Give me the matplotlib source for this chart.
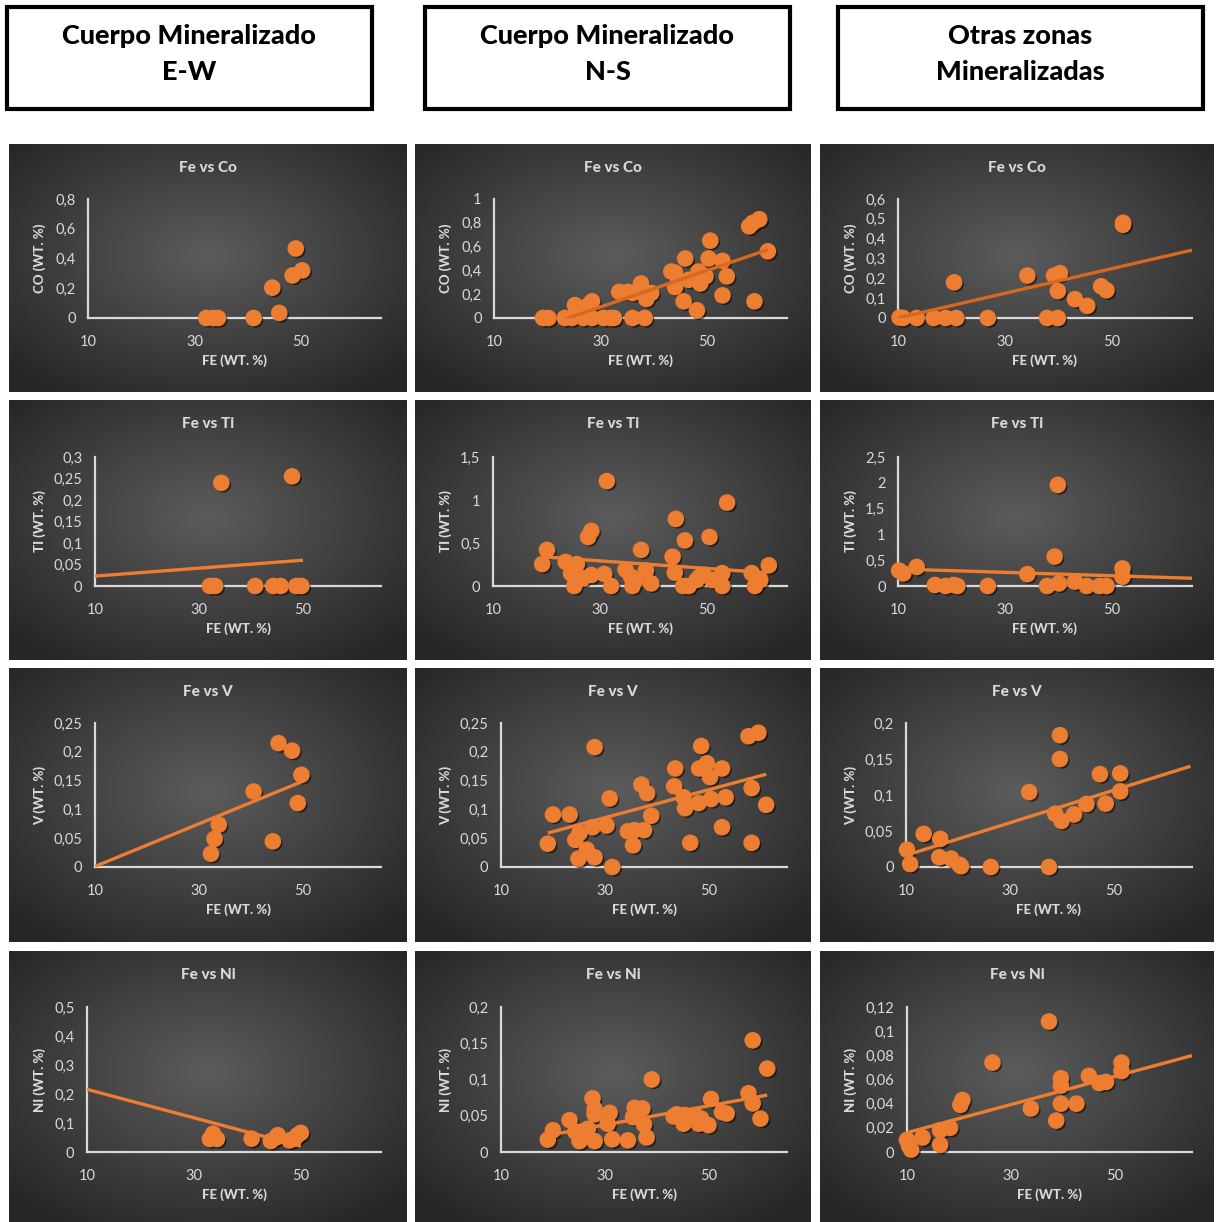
import numpy as np
import matplotlib.pyplot as plt
import matplotlib.patheffects as pe
from matplotlib.patches import Rectangle
from matplotlib.ticker import FuncFormatter, MultipleLocator

plt.rcParams['font.family'] = ['Lato', 'DejaVu Sans']

# ---------------- data (Fe wt.% vs element wt.%) ----------------
# Cuerpo Mineralizado E-W
ew_co_fe = [32.2, 33.5, 34.4, 41.1, 44.6, 45.9, 48.4, 49.0, 50.2]
ew_co = [0, 0, 0, 0, 0.204, 0.034, 0.286, 0.467, 0.32]
ew_ti_fe = [32.1, 33.1, 34.3, 40.8, 44.3, 45.7, 47.9, 48.7, 49.7]
ew_ti = [0, 0, 0.24, 0, 0, 0, 0.255, 0, 0]
ew_v_fe = [32.3, 33.0, 33.8, 40.5, 44.2, 45.3, 47.9, 49.0, 49.7]
ew_v = [0.023, 0.049, 0.0735, 0.131, 0.0445, 0.215, 0.202, 0.111, 0.16]
ew_ni_fe = [33.0, 33.6, 34.3, 40.8, 44.4, 45.4, 45.7, 47.9, 48.8, 49.4, 50.0]
ew_ni = [0.045, 0.063, 0.045, 0.046, 0.038, 0.05, 0.058, 0.04, 0.046, 0.058, 0.066]

# Cuerpo Mineralizado N-S
ns_co_fe = [19.2, 20.2, 23.3, 24.6, 25.2, 25.9, 26.8, 28.4, 27.8, 28.4, 30.6, 31.9,
            32.5, 33.5, 35.1, 36.0, 36.0, 38.3, 37.6, 38.6, 39.5, 43.3, 44.0, 44.0,
            45.6, 45.9, 46.5, 48.1, 48.4, 48.7, 49.7, 50.6, 50.3, 52.9, 52.9, 53.7,
            57.9, 58.6, 59.8, 58.9, 61.4]
ns_co = [0, 0, 0, 0, 0.108, 0.05, 0, 0, 0.11, 0.14, 0, 0,
         0, 0.22, 0.22, 0.21, 0, 0, 0.29, 0.16, 0.21, 0.39, 0.38, 0.26,
         0.14, 0.50, 0.32, 0.065, 0.39, 0.29, 0.35, 0.65, 0.50, 0.48, 0.19, 0.35,
         0.77, 0.80, 0.83, 0.14, 0.56]
ns_ti_fe = [19.2, 20.1, 23.6, 24.6, 25.2, 25.7, 26.8, 28.4, 27.8, 28.4, 30.8, 31.3,
            32.1, 34.8, 35.8, 36.1, 36.7, 37.7, 38.6, 39.6, 43.6, 44.0, 44.2, 45.6,
            46.6, 45.9, 48.1, 48.7, 49.4, 50.5, 51.0, 52.9, 52.9, 53.8, 58.4, 59.0,
            60.0, 61.6]
ns_ti = [0.255, 0.42, 0.28, 0.147, 0, 0.255, 0.09, 0.128, 0.57, 0.64, 0.14, 1.22,
         0, 0.19, 0.11, 0, 0.07, 0.42, 0.18, 0.03, 0.34, 0.155, 0.78, 0,
         0, 0.53, 0.07, 0.11, 0.13, 0.57, 0.07, 0.15, 0, 0.97, 0.15, 0,
         0.07, 0.24]
ns_v_fe = [19.0, 20.0, 23.2, 24.3, 25.1, 24.9, 26.5, 27.6, 28.0, 28.0, 30.3, 30.9,
           31.4, 34.4, 35.7, 35.4, 37.5, 37.0, 38.1, 38.9, 43.3, 43.5, 45.1, 45.4,
           46.4, 48.0, 48.1, 49.6, 48.5, 50.2, 50.4, 52.5, 52.5, 53.2, 57.6, 59.5,
           58.2, 58.2, 61.0]
ns_v = [0.0405, 0.091, 0.091, 0.047, 0.059, 0.0145, 0.03, 0.069, 0.208, 0.0168, 0.072, 0.119,
        0, 0.062, 0.064, 0.0376, 0.064, 0.143, 0.128, 0.089, 0.14, 0.171, 0.121, 0.102,
        0.042, 0.111, 0.171, 0.18, 0.21, 0.156, 0.118, 0.171, 0.069, 0.121, 0.227, 0.233,
        0.137, 0.042, 0.108]
ns_ni_fe = [19.0, 20.0, 23.2, 24.3, 25.1, 25.4, 26.7, 27.6, 28.0, 28.0, 28.0, 30.9,
            30.5, 31.4, 34.4, 35.4, 35.7, 37.2, 37.5, 38.0, 39.0, 43.2, 43.8, 45.1,
            45.4, 47.3, 48.0, 48.5, 49.9, 50.4, 52.5, 53.4, 57.6, 58.4, 58.4, 59.9,
            61.2]
ns_ni = [0.017, 0.03, 0.044, 0.028, 0.015, 0.028, 0.032, 0.074, 0.059, 0.052, 0.015, 0.054,
         0.039, 0.0175, 0.016, 0.048, 0.061, 0.06, 0.038, 0.02, 0.10, 0.049, 0.052, 0.039,
         0.051, 0.051, 0.039, 0.046, 0.037, 0.073, 0.055, 0.053, 0.081, 0.067, 0.154, 0.046,
         0.115]

# Otras zonas Mineralizadas
ot_co_fe = [10.3, 10.95, 13.5, 16.7, 18.9, 20.9, 20.5, 26.8, 34.2, 37.9, 39.9, 39.2,
            40.3, 39.9, 43.1, 45.4, 48.0, 49.0, 52.1, 52.1]
ot_co = [0.002, 0, 0, 0, 0, 0, 0.18, 0, 0.214, 0, 0, 0.214,
         0.226, 0.136, 0.095, 0.061, 0.16, 0.14, 0.48, 0.47]
ot_ti_fe = [10.2, 11.0, 13.5, 16.9, 18.9, 20.4, 21.1, 26.8, 34.2, 37.9, 39.3, 39.9,
            40.1, 43.1, 45.3, 47.7, 49.0, 52.0, 52.0]
ot_ti = [0.3, 0.245, 0.37, 0.02, 0, 0.02, 0, 0, 0.23, 0, 0.57, 1.96,
         0.05, 0.085, 0, 0, 0, 0.34, 0.18]
ot_v_fe = [10.2, 10.8, 13.4, 16.6, 16.4, 18.7, 20.3, 20.6, 26.3, 33.7, 37.5, 38.7,
           39.6, 39.6, 39.9, 42.3, 44.7, 47.3, 48.4, 51.2, 51.2]
ot_v = [0.024, 0.004, 0.046, 0.039, 0.0134, 0.0116, 0.003, 0.001, 0, 0.104, 0, 0.074,
        0.183, 0.15, 0.064, 0.073, 0.0875, 0.129, 0.088, 0.13, 0.105]
ot_ni_fe = [10.0, 10.4, 10.8, 13.0, 16.4, 16.4, 18.3, 20.3, 20.7, 26.5, 33.9, 37.4,
            38.8, 39.7, 39.7, 39.7, 42.7, 45.1, 47.1, 48.4, 51.4, 51.4]
ot_ni = [0.01, 0.005, 0.002, 0.012, 0.006, 0.018, 0.02, 0.039, 0.043, 0.074, 0.036, 0.108,
         0.026, 0.055, 0.061, 0.04, 0.04, 0.063, 0.057, 0.058, 0.074, 0.067]

# linear trendlines: (slope, intercept, x from, x to)
ew_trend = [None, (0.000925, 0.01375, 10, 50), (0.0037, -0.036, 10, 50), (-0.0049, 0.265, 10, 50)]
ns_trend = [(0.01535, -0.368, 19.2, 61.4), (-0.0044, 0.4245, 19.2, 61.3),
            (0.00243, 0.0128, 19.0, 61.0), (0.001315, -0.002, 19.0, 61.2)]
ot_trend = [(0.00622, -0.062, 10, 65), (-0.00327, 0.3627, 10, 65),
            (0.00226, -0.0063, 10.3, 64.7), (0.00116, 0.0044, 10, 65)]

headers = ['Cuerpo Mineralizado\nE-W', 'Cuerpo Mineralizado\nN-S', 'Otras zonas\nMineralizadas']
elements = ['Co', 'Ti', 'V', 'Ni']
ymax = [[0.8, 1, 0.6], [0.3, 1.5, 2.5], [0.25, 0.25, 0.2], [0.5, 0.2, 0.12]]
ystep = [[0.2, 0.2, 0.1], [0.05, 0.5, 0.5], [0.05, 0.05, 0.05], [0.1, 0.05, 0.02]]

series = [
    [(ew_co_fe, ew_co), (ns_co_fe, ns_co), (ot_co_fe, ot_co)],
    [(ew_ti_fe, ew_ti), (ns_ti_fe, ns_ti), (ot_ti_fe, ot_ti)],
    [(ew_v_fe, ew_v), (ns_v_fe, ns_v), (ot_v_fe, ot_v)],
    [(ew_ni_fe, ew_ni), (ns_ni_fe, ns_ni), (ot_ni_fe, ot_ni)],
]
trends = [[ew_trend[i], ns_trend[i], ot_trend[i]] for i in range(4)]

# ---------------- layout (pixels) ----------------
W, H = 1216, 1222
fig = plt.figure(figsize=(W / 100, H / 100), dpi=100)
fig.patch.set_facecolor('white')


def px_axes(l, t, r, b, **kw):
    return fig.add_axes([l / W, 1 - b / H, (r - l) / W, (b - t) / H], **kw)


# header boxes
box_x = [(7, 372), (425, 790), (838, 1203)]
for (l, r), txt in zip(box_x, headers):
    fig.patches.append(Rectangle((l / W, 1 - 109 / H), (r - l) / W, 102 / H,
                                 transform=fig.transFigure, fill=False,
                                 edgecolor='black', linewidth=3))
    fig.text((l + r) / 2 / W, 1 - 54 / H, txt, ha='center', va='center',
             fontsize=19.5, fontweight='black', linespacing=1.55)

panel_cols = [(9, 407), (415, 811), (820, 1214)]
panel_rows = [(144, 392), (400, 660), (668, 942), (951, 1222)]
plot_left = [[88, 494, 898], [95, 493, 898], [95, 501, 906], [87, 501, 907]]
plot_tb = [(199, 318), (457, 586), (723, 867), (1007, 1152)]

# radial gradient for panel background
gx, gy = np.meshgrid(np.linspace(-1, 1, 200), np.linspace(-1, 1, 200))
dist = np.clip(np.sqrt(gx ** 2 + (gy + 0.1) ** 2) / 1.35, 0, 1)
shade = 0.36 - 0.21 * dist
grad = np.dstack([shade, shade, shade])

fmt = FuncFormatter(lambda v, p: ('%g' % round(v, 4)).replace('.', ','))
orange = '#ED7D31'
light = '#d9d9d9'

for i in range(4):
    pt, pb = panel_rows[i]
    for j in range(3):
        pl, pr = panel_cols[j]
        bg = px_axes(pl, pt, pr, pb)
        bg.imshow(grad, extent=(0, 1, 0, 1), aspect='auto', interpolation='bicubic')
        bg.set_axis_off()

        al = plot_left[i][j]
        ar = pl + 372
        at, ab = plot_tb[i]
        ax = px_axes(al, at, ar, ab)
        ax.patch.set_alpha(0)
        fe, el = series[i][j]
        ax.scatter(fe, el, s=120, color=orange, zorder=3, clip_on=False,
                   path_effects=[pe.SimplePatchShadow(offset=(1.5, -1.5), shadow_rgbFace='black', alpha=0.55),
                                 pe.Normal()])
        tr = trends[i][j]
        if tr is not None:
            m, c, x0, x1 = tr
            xs = np.array([x0, x1])
            lc = '#D4691F' if i == 0 else orange
            ax.plot(xs, m * xs + c, color=lc, lw=2.4, zorder=4, solid_capstyle='butt')
        ax.set_xlim(10, 65)
        ax.set_ylim(0, ymax[i][j])
        ax.set_xticks([10, 30, 50])
        ax.yaxis.set_major_locator(MultipleLocator(ystep[i][j]))
        ax.yaxis.set_major_formatter(fmt)
        for s in ['top', 'right']:
            ax.spines[s].set_visible(False)
        for s in ['left', 'bottom']:
            ax.spines[s].set_color(light)
            ax.spines[s].set_linewidth(1.6)
            ax.spines[s].set_zorder(2)
        ax.tick_params(length=0, colors=light, labelsize=10.5, pad=9)
        ax.tick_params(axis='x', pad=12)

        fig.text((pl + pr) / 2 / W, 1 - (pt + 24) / H, 'Fe vs ' + elements[i],
                 ha='center', va='center', color=light, fontsize=11, fontweight='black')
        fig.text((al + ar) / 2 / W, 1 - (ab + 43) / H, 'FE (WT. %)',
                 ha='center', va='center', color=light, fontsize=9.5, fontweight='black')
        fig.text((pl + 31) / W, 1 - (at + ab) / 2 / H, elements[i].upper() + ' (WT. %)',
                 ha='center', va='center', rotation=90, color=light, fontsize=9.5,
                 fontweight='black')

fig.savefig('out.png', dpi=100, facecolor='white')
